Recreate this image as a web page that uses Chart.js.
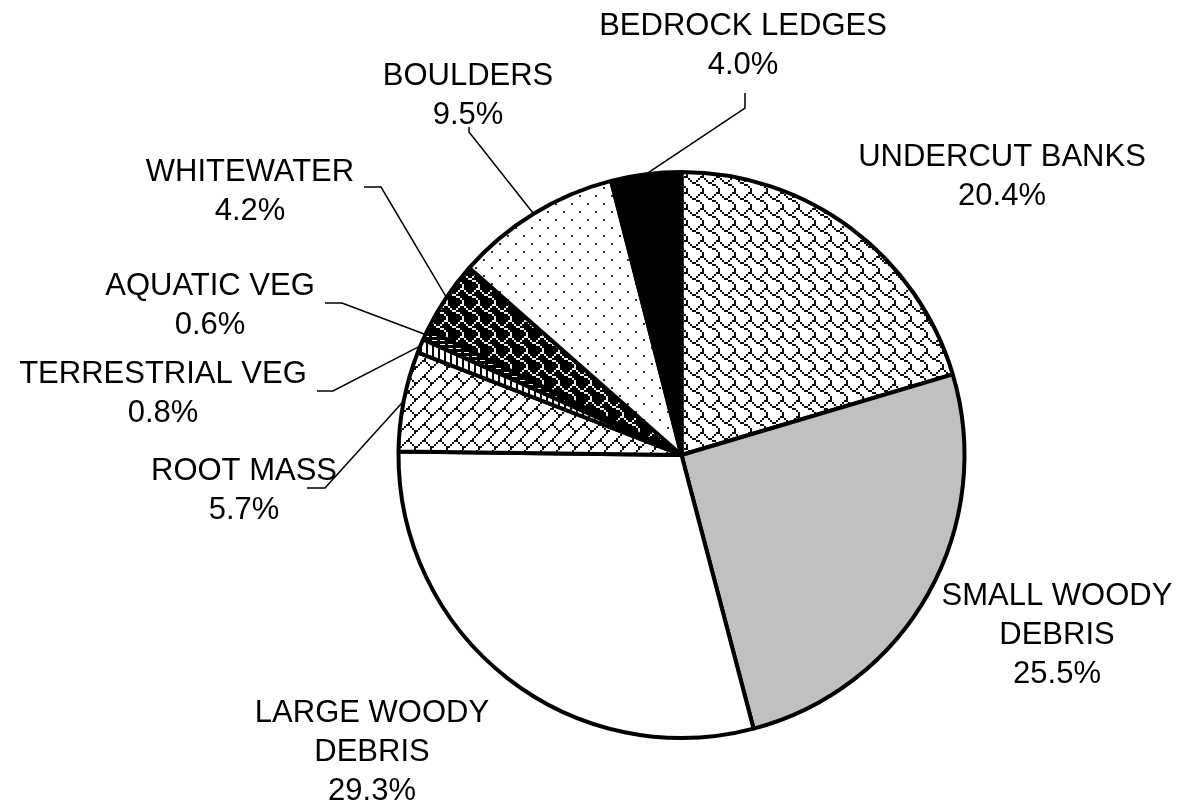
<!DOCTYPE html>
<html>
<head>
<meta charset="utf-8">
<script src="https://cdn.jsdelivr.net/npm/chart.js@4.4.1/dist/chart.umd.min.js"></script>
<style>
  html, body { margin: 0; padding: 0; background: #fff; }
</style>
</head>
<body>
<canvas id="cover-chart" width="1181" height="804"></canvas>
<script>
// cover types, clockwise from 12 o'clock
var categories = ['UNDERCUT BANKS', 'SMALL WOODY DEBRIS', 'LARGE WOODY DEBRIS', 'ROOT MASS',
  'TERRESTRIAL VEG', 'AQUATIC VEG', 'WHITEWATER', 'BOULDERS', 'BEDROCK LEDGES'];
var percents = [20.4, 25.5, 29.3, 5.7, 0.8, 0.6, 4.2, 9.5, 4.0];
var labelLines = [
  ['UNDERCUT BANKS'], ['SMALL WOODY', 'DEBRIS'], ['LARGE WOODY', 'DEBRIS'], ['ROOT MASS'],
  ['TERRESTRIAL VEG'], ['AQUATIC VEG'], ['WHITEWATER'], ['BOULDERS'], ['BEDROCK LEDGES']
];

// label block centre, offset from the pie centre
var labelAt = [
  [320.5, -280.5], [375.5, 178], [-309.5, 295], [-437.5, 33.5],
  [-518.5, -64], [-471.5, -152], [-431.5, -266], [-213.5, -362], [61.5, -412]
];
// leader lines: elbow then tail (offsets from pie centre), null = no leader
var leaders = [
  null, null, null,
  [[-356.5, 33], [-374.5, 33]],
  [[-348.5, -64], [-364.5, -64]],
  [[-339.5, -152], [-356.5, -152]],
  [[-300.5, -268], [-317.5, -268]],
  [[-212.5, -323], [-212.5, -328]],
  [[63.5, -347], [63.5, -362]]
];

var canvas = document.getElementById('cover-chart');
var ctx = canvas.getContext('2d');

// 8x8 hatch bitmap, each bit drawn as a scale x scale block
function bitmapPattern(rows, fg, bg, scale) {
  var c = document.createElement('canvas');
  c.width = c.height = 8 * scale;
  var g = c.getContext('2d');
  g.fillStyle = bg; g.fillRect(0, 0, c.width, c.height);
  g.fillStyle = fg;
  rows.forEach(function(bits, y) {
    for (var x = 0; x < 8; x++) {
      if (bits & (0x80 >> x)) g.fillRect(x * scale, y * scale, scale, scale);
    }
  });
  return ctx.createPattern(c, 'repeat');
}

function dotPattern() {
  var c = document.createElement('canvas');
  c.width = c.height = 16;
  var g = c.getContext('2d');
  g.fillStyle = '#fff'; g.fillRect(0, 0, 16, 16);
  g.fillStyle = '#333';
  g.fillRect(3, 3, 2, 2);
  g.fillRect(11, 11, 2, 2);
  return ctx.createPattern(c, 'repeat');
}

function stripePattern(w, ink, fg, bg, vertical) {
  var c = document.createElement('canvas');
  c.width = vertical ? w : 8; c.height = vertical ? 8 : w;
  var g = c.getContext('2d');
  g.fillStyle = bg; g.fillRect(0, 0, c.width, c.height);
  g.fillStyle = fg;
  if (vertical) g.fillRect(0, 0, ink, 8); else g.fillRect(0, 0, 5, ink);
  return ctx.createPattern(c, 'repeat');
}

var SHINGLE = [0x03, 0x84, 0x48, 0x30, 0x0c, 0x02, 0x01, 0x01];
var DIAG_BRICK = [0x01, 0x02, 0x04, 0x08, 0x18, 0x24, 0x42, 0x81];

var fills = [
  bitmapPattern(SHINGLE, '#111', '#fff', 2),         // undercut banks
  '#c0c0c0',                                         // small woody debris
  '#ffffff',                                         // large woody debris
  bitmapPattern(DIAG_BRICK, '#111', '#fff', 2),      // root mass
  stripePattern(6, 2, '#000', '#fff', true),         // terrestrial veg
  stripePattern(4, 1, '#fff', '#000', false),        // aquatic veg
  bitmapPattern(SHINGLE, '#e8e8e8', '#000', 2),      // whitewater
  dotPattern(),                                      // boulders
  '#000000'                                          // bedrock ledges
];

var FONT_PX = 31;
var FONT = FONT_PX + 'px "Liberation Sans", Arial, sans-serif';
var LINE_H = 39;

// outside labels + leader lines
var pieLabels = {
  id: 'pieLabels',
  afterDraw: function(chart) {
    var g = chart.ctx;
    var arcs = chart.getDatasetMeta(0).data;
    g.save();
    g.font = FONT;
    g.fillStyle = '#000';
    g.textAlign = 'center';
    g.textBaseline = 'alphabetic';
    arcs.forEach(function(arc, i) {
      var p = arc.getProps(['x', 'y', 'startAngle', 'endAngle', 'outerRadius'], true);
      var cx = p.x, cy = p.y;

      if (leaders[i]) {
        var mid = (p.startAngle + p.endAngle) / 2;
        var r = p.outerRadius;
        g.beginPath();
        g.lineWidth = 1.5;
        g.strokeStyle = '#000';
        g.moveTo(cx + Math.cos(mid) * r, cy + Math.sin(mid) * r);
        leaders[i].forEach(function(pt) { g.lineTo(cx + pt[0], cy + pt[1]); });
        g.stroke();
      }

      // caps centred on each line position
      var lines = labelLines[i].concat([percents[i].toFixed(1) + '%']);
      var lx = cx + labelAt[i][0];
      var top = cy + labelAt[i][1] - (lines.length - 1) * LINE_H / 2;
      lines.forEach(function(t, k) {
        g.fillText(t, lx, top + k * LINE_H + FONT_PX * 0.358);
      });
    });
    g.restore();
  }
};

new Chart(canvas, {
  type: 'pie',
  data: {
    labels: categories,
    datasets: [{
      data: percents,
      backgroundColor: fills,
      borderColor: '#000',
      borderWidth: 4
    }]
  },
  options: {
    responsive: false,
    animation: false,
    layout: { padding: { left: 396, right: 214, top: 170, bottom: 64 } },
    plugins: {
      legend: { display: false },
      tooltip: { enabled: false }
    }
  },
  plugins: [pieLabels]
});
</script>
</body>
</html>
